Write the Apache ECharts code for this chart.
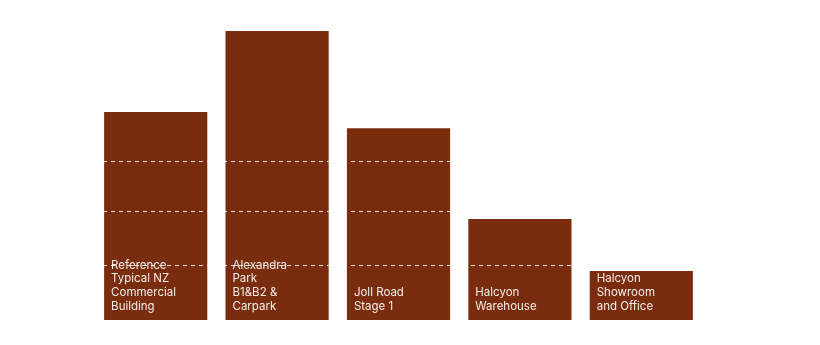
<!DOCTYPE html>
<html><head><meta charset="utf-8">
<script src="https://cdn.jsdelivr.net/npm/echarts@6/dist/echarts.min.js"></script>
<style>html,body{margin:0;padding:0;background:#fff}#c{width:820px;height:345px}</style>
</head><body><div id="c"></div>
<script>
const categories = ["Reference\nTypical NZ\nCommercial\nBuilding", "Alexandra\nPark\nB1&B2 &\nCarpark", "Joll Road\nStage 1", "Halcyon\nWarehouse", "Halcyon\nShowroom\nand Office"];
const values = [777, 1080, 717, 377, 183];
const refLines = [203, 405, 594];

const chart = echarts.init(document.getElementById('c'), null, {renderer: 'canvas'});
chart.setOption({
  animation: false,
  grid: {left: 95, right: 118, top: 31, bottom: 25},
  xAxis: {type: 'category', data: categories, show: false},
  yAxis: {type: 'value', min: 0, max: 1080, show: false, splitLine: {show: false}},
  series: [{
    type: 'bar',
    data: values,
    barWidth: '85%',
    itemStyle: {color: '#7a2d0e'},
    label: {
      show: true,
      position: 'insideBottomLeft',
      distance: 7,
      formatter: p => categories[p.dataIndex],
      color: '#f4ece8',
      fontFamily: 'Inter, "Liberation Sans", Arial, sans-serif',
      fontSize: 11.5,
      lineHeight: 13.7,
      align: 'left',
      verticalAlign: 'bottom'
    },
    markLine: {
      silent: true,
      symbol: 'none',
      label: {show: false},
      lineStyle: {color: 'rgba(255,255,255,0.85)', type: [4, 4], width: 1},
      data: refLines.map(v => ({yAxis: v}))
    }
  }]
});
</script></body></html>
